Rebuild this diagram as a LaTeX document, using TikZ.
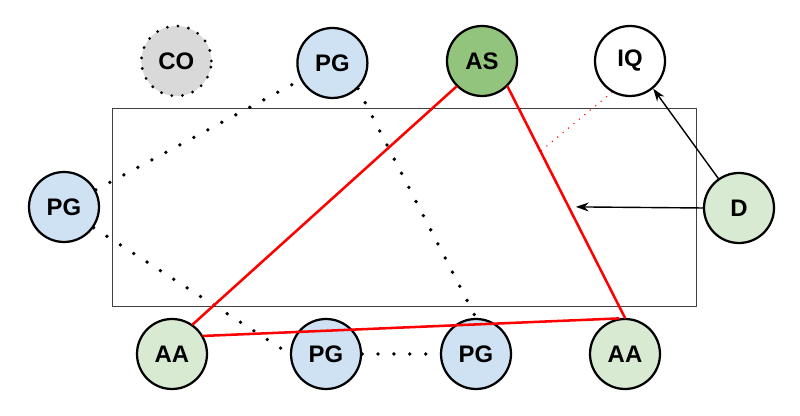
\documentclass[tikz,border=0pt]{standalone}
\usepackage{fontspec}
\setmainfont{Liberation Sans}
\usetikzlibrary{arrows.meta}
\definecolor{pgblue}{HTML}{CFE2F3}
\definecolor{aagreen}{HTML}{D9EAD3}
\definecolor{asgreen}{HTML}{93C47D}
\definecolor{cogray}{HTML}{D9D9D9}
\begin{document}
\begin{tikzpicture}[scale=1,>={Stealth[length=3.2mm,width=2.2mm]}, font=\fontsize{17}{20}\selectfont\bfseries, line join=round, line cap=round,
	circ/.style={circle, draw, line width=1.6pt, minimum size=1.75cm, inner sep=0pt},
	dots/.style={line width=2.7pt, dash pattern=on 0pt off 11.3pt},
	link/.style={red, line width=1.8pt}]
	\useasboundingbox (0,0) rectangle (20,10.4);
	\draw[line width=0.6pt, black!75, line cap=butt] (2.8,2.75) rectangle (17.4,7.7);
	\node[circ, fill=cogray, line width=2.2pt, dash pattern=on 0pt off 7.6pt] (CO) at (4.41,8.875) {CO};
	\node[circ, fill=pgblue] (PGt) at (8.31,8.825) {PG};
	\node[circ, fill=asgreen] (AS) at (12.05,8.875) {AS};
	\node[circ, fill=white] (IQ) at (15.75,8.875) {IQ};
	\node[circ, fill=pgblue] (PGl) at (1.6,5.225) {PG};
	\node[circ, fill=aagreen] (D) at (18.475,5.2) {D};
	\node[circ, fill=aagreen] (AAl) at (4.3,1.55) {AA};
	\node[circ, fill=pgblue] (PGa) at (8.15,1.55) {PG};
	\node[circ, fill=pgblue] (PGb) at (11.9,1.55) {PG};
	\node[circ, fill=aagreen] (AAr) at (15.625,1.55) {AA};
	\draw[dots] (PGl) -- (PGt);
	\draw[dots] (PGl.-35) -- (PGa.west);
	\draw[dots] (PGt.-45) -- (PGb.north);
	\draw[dots] (PGa.east) -- (PGb.west);
	\draw[link] (AS.-135) -- (AAl.55);
	\draw[link] (AS.-45) -- coordinate[pos=0.28] (q) coordinate[pos=0.52] (hit) (AAr.north);
	\draw[link] (AAl.30) -- (AAr.100);
	\draw[red, line width=1.1pt, dash pattern=on 0pt off 5pt] (IQ.-120) -- (q);
	\draw[->, line width=1pt] (D.125) -- (IQ.-50);
	\draw[->, line width=1pt, shorten >=0.18cm] (D.west) -- (hit);
\end{tikzpicture}
\end{document}
